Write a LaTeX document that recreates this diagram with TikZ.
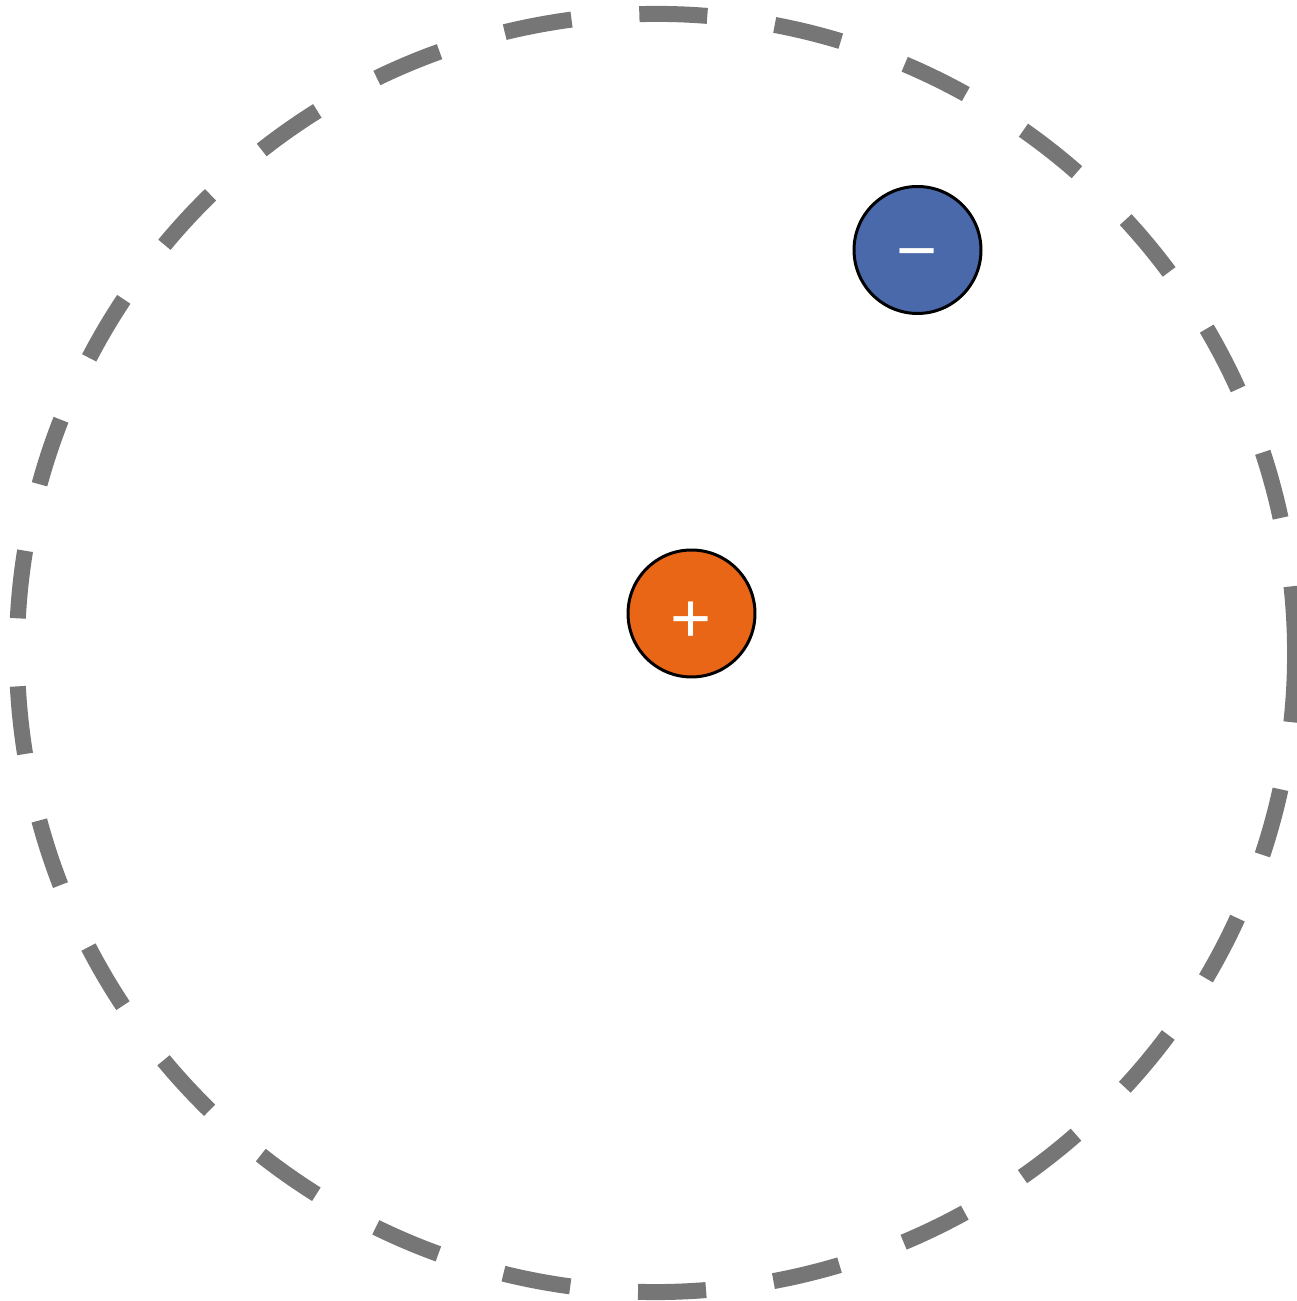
\documentclass[tikz,border=0pt]{standalone}
\usepackage{fontspec}
\setmainfont{Liberation Sans}
\usepackage{tikz}
\usetikzlibrary{positioning}
\definecolor{orbitgray}{RGB}{118,118,118}
\definecolor{protonorange}{RGB}{233,102,22}
\definecolor{electronblue}{RGB}{74,105,171}
% one long dash at the right, then 28 equal dashes round the ring
\def\orbitdash{on 2.722cm off 1.361cm}
\foreach \k in {1,...,28}{\xdef\orbitdash{\orbitdash\space on 1.361cm off 1.361cm}}
\tikzstyle{particle} = [circle, minimum size=2.54cm, inner sep=0pt, draw=black, line width=0.06cm, text=white, text depth=0pt, font=\fontsize{40}{40}\selectfont]
\tikzstyle{orbit} = [draw=orbitgray, line width=0.32cm, dash pattern/.expanded=\orbitdash, dash phase=3.4025cm]

\begin{document}
\begin{tikzpicture}[x=0.02cm, y=0.02cm]
  \useasboundingbox (0,0) rectangle (1296,1301);
  % orbit
  \draw[orbit, shift={(656,648)}, rotate=9.15] (0,0) circle [radius=639];
  % nucleus and electron
  \node[particle, fill=protonorange, text height=33pt] (proton) at (691.5,687.5) {+};
  \node[particle, fill=electronblue, text height=27.8pt] (electron) at (917.5,1051) {−};
\end{tikzpicture}
\end{document}
